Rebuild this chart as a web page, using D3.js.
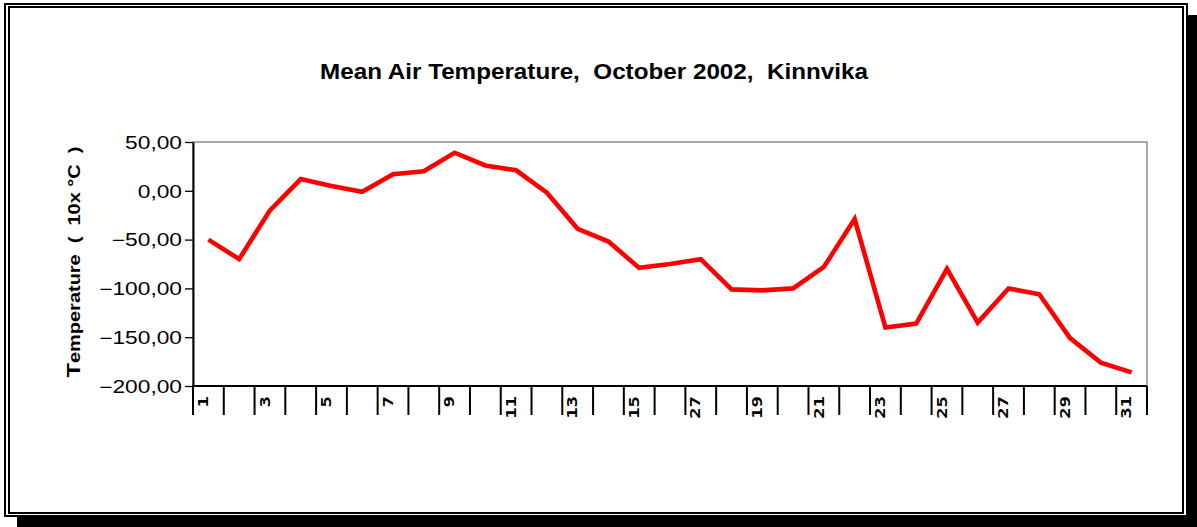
<!DOCTYPE html>
<html>
<head>
<meta charset="utf-8">
<script src="https://cdn.jsdelivr.net/npm/d3@7"></script>
<style>
  body { margin: 0; background: #fff; }
  svg { display: block; }
</style>
</head>
<body>
<div id="chart"></div>
<script>
// days of October 2002 and daily mean air temperature (10x °C)
var days = d3.range(1, 32);
var temps = [-50, -70, -20, 12, 5, -1, 17, 20, 39, 26, 21, -2, -39, -52, -79, -75,
  -70, -101, -102, -100, -78, -29, -140, -136, -80, -135, -100, -106, -151, -176, -186];
// label shown under every second day (the 17 reads "27" on the original)
var tickLabels = ["1", "", "3", "", "5", "", "7", "", "9", "", "11", "", "13", "", "15", "",
  "27", "", "19", "", "21", "", "23", "", "25", "", "27", "", "29", "", "31"];
var yTicks = [-200, -150, -100, -50, 0, 50];

var W = 1197, H = 527;
var plot = { left: 193, right: 1147, top: 142, bottom: 386 };

var svg = d3.select("#chart").append("svg")
  .attr("width", W)
  .attr("height", H);

// frame: drop shadow + double border
svg.append("rect")
  .attr("x", 17).attr("y", 15)
  .attr("width", W - 17).attr("height", H - 15)
  .attr("fill", "#000");
svg.append("rect")
  .attr("x", 5).attr("y", 4)
  .attr("width", 1182).attr("height", 512)
  .attr("fill", "#fff").attr("stroke", "#000").attr("stroke-width", 2);
svg.append("rect")
  .attr("x", 9).attr("y", 7)
  .attr("width", 1174).attr("height", 506)
  .attr("fill", "#fff").attr("stroke", "#000").attr("stroke-width", 2);

var x = d3.scaleBand().domain(days).range([plot.left, plot.right]);
var y = d3.scaleLinear().domain([-200, 50]).range([plot.bottom, plot.top]);

// plot area border (top and right thin grey)
svg.append("rect")
  .attr("x", plot.left).attr("y", plot.top)
  .attr("width", plot.right - plot.left).attr("height", plot.bottom - plot.top)
  .attr("fill", "none").attr("stroke", "#555").attr("stroke-width", 1);

// y axis
var yAxis = d3.axisLeft(y).tickValues(yTicks).tickSizeInner(8).tickSizeOuter(0).tickPadding(3)
  .tickFormat(function(d) { return d3.format(".2f")(d).replace(".", ","); });
var gy = svg.append("g")
  .attr("transform", "translate(" + plot.left + ",0)")
  .call(yAxis);
gy.select(".domain").attr("stroke", "#000").attr("stroke-width", 2);
gy.selectAll(".tick line").attr("stroke", "#000").attr("stroke-width", 1.3);
// the original labels are wide, so stretch them sideways
gy.selectAll(".tick text")
  .attr("x", -11 / 1.3)
  .attr("transform", "scale(1.3,1)")
  .attr("font-family", "Liberation Sans, Arial, sans-serif")
  .attr("font-size", 17.5)
  .attr("fill", "#000")
  .attr("dy", "0.36em");

// x axis: separators between days, rotated labels
var gx = svg.append("g")
  .attr("transform", "translate(0," + plot.bottom + ")");
gx.append("line")
  .attr("x1", plot.left - 1).attr("x2", plot.right)
  .attr("y1", 0).attr("y2", 0)
  .attr("stroke", "#000").attr("stroke-width", 2);
gx.selectAll("line.sep")
  .data(days.concat([32]))
  .enter().append("line")
  .attr("class", "sep")
  .attr("x1", function(d) { return d <= 31 ? x(d) : plot.right; })
  .attr("x2", function(d) { return d <= 31 ? x(d) : plot.right; })
  .attr("y1", 0).attr("y2", 29)
  .attr("stroke", "#000").attr("stroke-width", 2);
gx.selectAll("text.day")
  .data(days)
  .enter().append("text")
  .attr("class", "day")
  .attr("transform", function(d) {
    return "translate(" + (x(d) + 10) + ",10) rotate(-90) scale(1.35,1)";
  })
  .attr("text-anchor", "end")
  .attr("dy", "0.36em")
  .attr("font-family", "DejaVu Sans Mono, monospace")
  .attr("font-weight", "bold")
  .attr("font-size", 14)
  .attr("fill", "#000")
  .text(function(d, i) { return tickLabels[i]; });

// temperature line
var line = d3.line()
  .x(function(d, i) { return x(days[i]) + x.bandwidth() / 2; })
  .y(function(d) { return y(d); });
svg.append("path")
  .datum(temps)
  .attr("d", line)
  .attr("fill", "none")
  .attr("stroke", "#ff0000")
  .attr("stroke-width", 4.6)
  .attr("stroke-linejoin", "miter");

// titles
svg.append("text")
  .attr("x", 594).attr("y", 79)
  .attr("text-anchor", "middle")
  .attr("font-family", "Liberation Sans, Arial, sans-serif")
  .attr("font-weight", "bold")
  .attr("font-size", 22)
  .attr("textLength", 548)
  .attr("lengthAdjust", "spacingAndGlyphs")
  .style("white-space", "pre")
  .text("Mean Air Temperature,  October 2002,  Kinnvika");

var yt = svg.append("text")
  .attr("transform", "translate(80,262) rotate(-90)")
  .attr("text-anchor", "middle")
  .attr("font-family", "Liberation Sans, Arial, sans-serif")
  .attr("font-weight", "bold")
  .attr("font-size", 16)
  .attr("textLength", 231)
  .attr("lengthAdjust", "spacingAndGlyphs")
  .style("white-space", "pre");
yt.append("tspan").attr("font-size", 19).text("T");
yt.append("tspan").text("emperature  (  10x °C  )");
</script>
</body>
</html>
